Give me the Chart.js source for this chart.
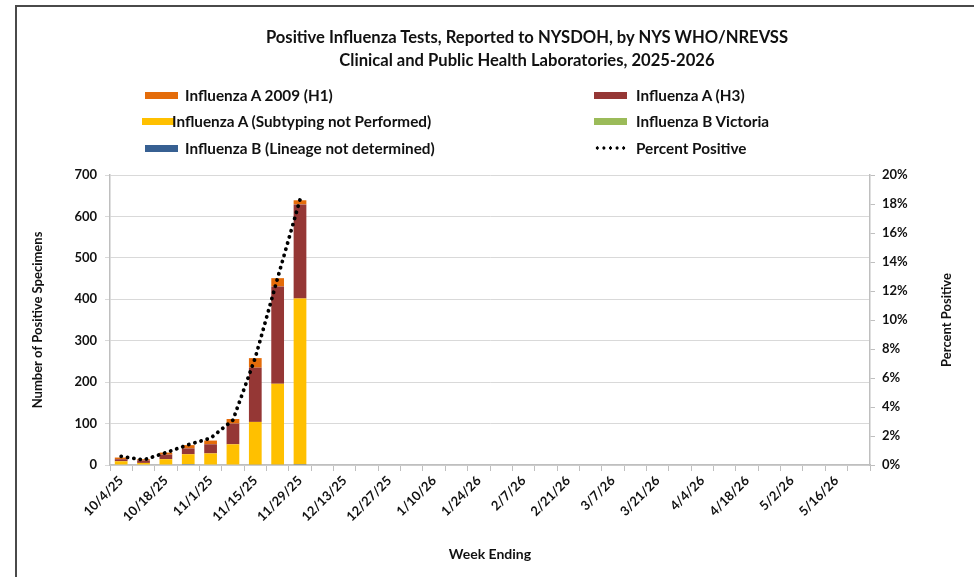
<!DOCTYPE html>
<html>
<head>
<meta charset="utf-8">
<script src="https://cdn.jsdelivr.net/npm/chart.js@4"></script>
<style>
  html, body { margin: 0; padding: 0; background: #fff; }
  body { width: 974px; height: 577px; position: relative; overflow: hidden; font-family: Lato, "Open Sans", sans-serif; }
  #frame { position: absolute; left: 15px; top: 5px; width: 1000px; height: 620px; border: 2px solid #4a4a4a; box-sizing: border-box; }
  #wrap { position: absolute; left: 0; top: 0; width: 974px; height: 577px; }
  #title { position: absolute; left: 80px; width: 894px; top: 26px; text-align: center; font-weight: bold; font-size: 16.6px; line-height: 23px; color: #111; }
  .leg { position: absolute; font-weight: bold; font-size: 15.3px; color: #111; white-space: nowrap; line-height: 16px; }
  .sw { position: absolute; width: 33px; height: 7px; top: 5px; }
  .dots { position: absolute; top: 7px; width: 33px; height: 4px;
          background-image: radial-gradient(circle, #000 1.5px, transparent 1.8px);
          background-size: 6.6px 4px; }
  #rtitle { position: absolute; left: 946px; top: 320px; transform: translate(-50%, -50%) rotate(-90deg);
            font-weight: bold; font-size: 13px; color: #111; white-space: nowrap; }
</style>
</head>
<body>
<div id="wrap"><canvas id="chart" width="974" height="577"></canvas></div>
<div id="frame"></div>
<div id="title">Positive Influenza Tests, Reported to NYSDOH, by NYS WHO/NREVSS<br>Clinical and Public Health Laboratories, 2025-2026</div>
<div id="legend"></div>
<div id="rtitle">Percent Positive</div>
<script>
const weeks = ["10/4/25", "10/11/25", "10/18/25", "10/25/25", "11/1/25", "11/8/25", "11/15/25", "11/22/25", "11/29/25",
  "12/6/25", "12/13/25", "12/20/25", "12/27/25", "1/3/26", "1/10/26", "1/17/26", "1/24/26", "1/31/26",
  "2/7/26", "2/14/26", "2/21/26", "2/28/26", "3/7/26", "3/14/26", "3/21/26", "3/28/26", "4/4/26",
  "4/11/26", "4/18/26", "4/25/26", "5/2/26", "5/9/26", "5/16/26", "5/23/26"];

// positive specimens by week (only weeks reported so far)
const fluBLineageND = [0, 0, 0, 2, 0, 0, 1, 1, 2];
const fluBVictoria = [0, 0, 0, 0, 0, 0, 0, 0, 0];
const fluANotSubtyped = [9, 5, 14, 24, 28, 50, 103, 195, 400];
const fluAH3 = [5, 6, 11, 14, 22, 50, 131, 235, 227];
const fluAH1 = [4, 3, 5, 8, 9, 11, 23, 20, 10];
const pctPositive = [0.6, 0.35, 0.85, 1.4, 1.85, 3.1, 7.4, 12.9, 18.3];

const countTicks = [0, 100, 200, 300, 400, 500, 600, 700];
const pctTicks = [0, 2, 4, 6, 8, 10, 12, 14, 16, 18, 20];

const colors = {
  h1: "#e46c0a",
  h3: "#953735",
  notSub: "#ffc000",
  bVic: "#9bbb59",
  bND: "#376092"
};

// legend laid out in two columns like the original
const legendItems = [
  { text: "Influenza A 2009 (H1)", color: colors.h1, x: 145, y: 87, tx: 185 },
  { text: "Influenza A (H3)", color: colors.h3, x: 594, y: 87, tx: 636 },
  { text: "Influenza A (Subtyping not Performed)", color: colors.notSub, x: 142, y: 113, tx: 172 },
  { text: "Influenza B Victoria", color: colors.bVic, x: 594, y: 113, tx: 636 },
  { text: "Influenza B (Lineage not determined)", color: colors.bND, x: 145, y: 140, tx: 185 },
  { text: "Percent Positive", dots: true, x: 594, y: 140, tx: 636 }
];
const legendEl = document.getElementById("legend");
legendItems.forEach(it => {
  const sw = document.createElement("div");
  sw.className = it.dots ? "dots" : "sw";
  sw.style.left = it.x + "px";
  sw.style.top = (it.y + (it.dots ? 6 : 5)) + "px";
  if (!it.dots) sw.style.background = it.color;
  legendEl.appendChild(sw);
  const t = document.createElement("div");
  t.className = "leg";
  t.style.left = it.tx + "px";
  t.style.top = it.y + "px";
  t.textContent = it.text;
  legendEl.appendChild(t);
});

const tickFont = { family: "Lato", weight: "bold", size: 13 };
const axisGrey = "#bfbfbf";

function bar(label, data, color) {
  return {
    type: "bar", label, data, backgroundColor: color, borderWidth: 0,
    yAxisID: "y", stack: "flu", order: 1,
    barPercentage: 0.57, categoryPercentage: 1
  };
}

new Chart(document.getElementById("chart"), {
  data: {
    labels: weeks,
    datasets: [
      bar("Influenza B (Lineage not determined)", fluBLineageND, colors.bND),
      bar("Influenza B Victoria", fluBVictoria, colors.bVic),
      bar("Influenza A (Subtyping not Performed)", fluANotSubtyped, colors.notSub),
      bar("Influenza A (H3)", fluAH3, colors.h3),
      bar("Influenza A 2009 (H1)", fluAH1, colors.h1),
      {
        type: "line", label: "Percent Positive", data: pctPositive, yAxisID: "y2", order: 0,
        borderColor: "#000", borderWidth: 3.8, borderDash: [0.1, 6.3], borderCapStyle: "round",
        pointRadius: 0, tension: 0, fill: false
      }
    ]
  },
  options: {
    responsive: false,
    animation: false,
    layout: { padding: { left: 30, right: 14, top: 175, bottom: 14 } },
    plugins: { legend: { display: false }, tooltip: { enabled: false } },
    scales: {
      x: {
        stacked: true,
        offset: true,
        grid: { display: true, offset: true, drawOnChartArea: false, tickLength: 6, color: axisGrey },
        border: { color: axisGrey, width: 1.5 },
        ticks: {
          autoSkip: false, maxRotation: 45, minRotation: 45, padding: 2,
          color: "#111", font: tickFont,
          callback: function (v, i) { return i % 2 === 0 ? weeks[i] : ""; }
        },
        title: { display: true, text: "Week Ending", color: "#111", font: { family: "Lato", weight: "bold", size: 14 }, padding: { top: 0, bottom: 0 } },
        afterFit: s => { s.height = 98; }
      },
      y: {
        stacked: true,
        position: "left",
        min: 0, max: 700,
        afterBuildTicks: s => { s.ticks = countTicks.map(v => ({ value: v })); },
        grid: { color: "#d9d9d9", tickLength: 5, lineWidth: 1 },
        border: { color: axisGrey, width: 1.5 },
        ticks: { color: "#111", font: tickFont, padding: 8 },
        title: { display: true, text: "Number of Positive Specimens", color: "#111", font: { family: "Lato", weight: "bold", size: 13 }, padding: { top: 0, bottom: 0 } },
        afterFit: s => { s.width = 80; }
      },
      y2: {
        position: "right",
        min: 0, max: 20,
        afterBuildTicks: s => { s.ticks = pctTicks.map(v => ({ value: v })); },
        grid: { drawOnChartArea: false, tickLength: 5, color: axisGrey },
        border: { color: axisGrey, width: 1.5 },
        ticks: { color: "#111", font: tickFont, padding: 7, callback: v => v + "%" },
        afterFit: s => { s.width = 90; }
      }
    }
  }
});
</script>
</body>
</html>
